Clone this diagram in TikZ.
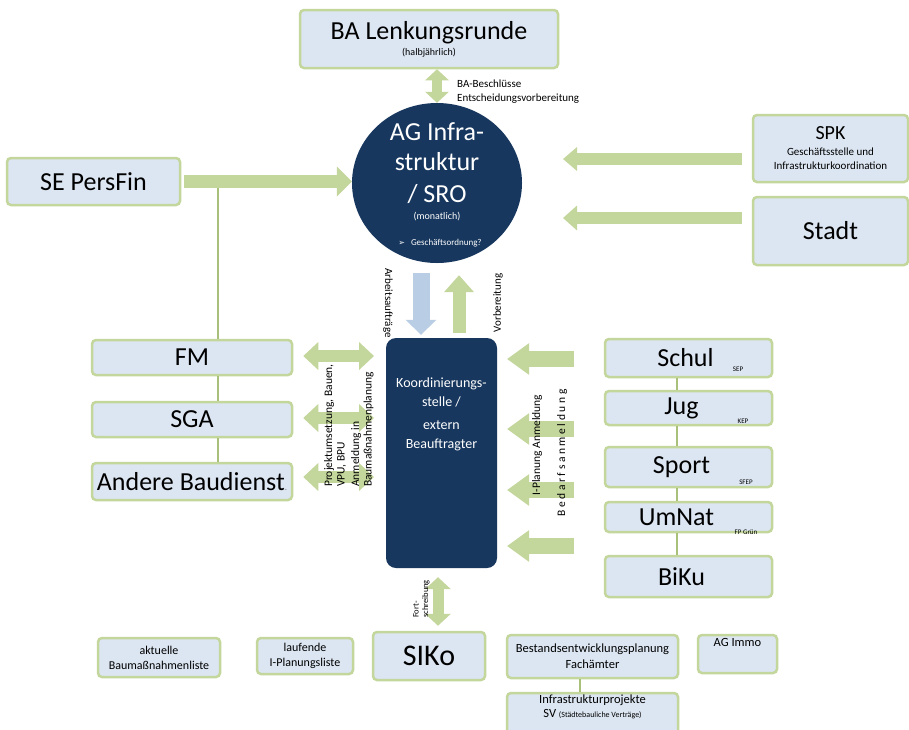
\documentclass[tikz,border=0pt]{standalone}
\usepackage{fontspec}
\setmainfont{Carlito}
\newfontfamily\symfont{DejaVu Sans}
\usetikzlibrary{arrows.meta,shapes.geometric,calc}
\definecolor{boxfill}{HTML}{DCE6F2}
\definecolor{boxline}{HTML}{C3D69B}
\definecolor{arrowgreen}{HTML}{C3D69B}
\definecolor{linkgreen}{HTML}{A9C07A}
\definecolor{navy}{HTML}{17375E}
\definecolor{paleblue}{HTML}{B9CDE5}
\newcommand\fsz[2]{\fontsize{#1}{#2}\selectfont}

\tikzset{
  panel/.style={draw=boxline, line width=2.5pt, fill=boxfill, rounded corners=4pt,
    inner sep=0pt, align=center, text=black},
  wtext/.style={text=white, inner sep=0pt, align=center},
  plain/.style={inner sep=0pt, text=black},
  link/.style={draw=linkgreen, line width=1.2pt},
  onehead/.style n args={4}{draw=#1, line width=#2,
    -{Triangle[width=#3,length=#4]}},
  twohead/.style n args={3}{draw=arrowgreen, line width=#1,
    {Triangle[width=#2,length=#3]}-{Triangle[width=#2,length=#3]}}
}

\begin{document}
\begin{tikzpicture}[x=1pt,y=-1pt,font=\fsz{12}{14}]
\useasboundingbox[fill=white] (0,0) rectangle (909,729);

% --- central circle: AG Infrastruktur / SRO
\node[ellipse, fill=navy, minimum width=170pt, minimum height=160pt, inner sep=0pt] (ago) at (437,183) {};
\node[wtext, font=\fsz{26}{28}] (ago1) at (437,132) {AG Infra-};
\node[wtext, font=\fsz{26}{28}] (ago2) at (437,162) {struktur};
\node[wtext, font=\fsz{26}{28}] (ago3) at (437,194) {/ SRO};
\node[wtext, font=\fsz{10}{12}] (ago4) at (437,217) {(monatlich)};
\node[wtext, font=\fsz{9}{11}] (ago5) at (440,243) {{\symfont\fsz{8}{10}➢}\hspace{6pt}Geschäftsordnung?};

% --- coordination office
\node[fill=navy, rounded corners=10pt, minimum width=111pt, minimum height=230pt, inner sep=0pt] (koord) at (441.5,453) {};
\node[wtext, font=\fsz{14}{19}] (koordtxt) at (441.5,414) {Koordinierungs-\\stelle /\\[4pt]extern\\Beauftragter};

% --- top and side boxes
\node[panel, minimum width=258pt, minimum height=58pt] (ba) at (429,39)
  {\fsz{26}{28}BA Lenkungsrunde\\[2pt]\fsz{10}{12}(halbjährlich)};
\node[panel, minimum width=155pt, minimum height=67pt] (spk) at (830.5,148.5)
  {\fsz{20}{22}SPK\\[2pt]\fsz{11}{14}Geschäftsstelle und\\\fsz{11}{14}Infrastrukturkoordination};
\node[panel, minimum width=155pt, minimum height=68pt, font=\fsz{26}{28}] (stadt) at (830.5,231) {Stadt};
\node[panel, minimum width=173pt, minimum height=47pt, font=\fsz{26}{28}] (sepf) at (93.5,181.5) {SE PersFin};

% --- left column
\node[panel, minimum width=200pt, minimum height=35pt, font=\fsz{26}{28}] (fm) at (192,357.5) {FM};
\node[panel, minimum width=200pt, minimum height=35pt, font=\fsz{26}{28}] (sga) at (192,419.5) {SGA};
\node[panel, minimum width=200pt, minimum height=37pt, font=\fsz{26}{28}] (andere) at (192,481.5)
  {Andere Baudienst{\fsz{9}{9}\color{black!50}.}};

% --- right column
\node[panel, minimum width=167pt, minimum height=38pt, font=\fsz{26}{28}] (schul) at (688.5,358) {\hspace{-6pt}Schul};
\node[panel, minimum width=167pt, minimum height=34pt, font=\fsz{26}{28}] (jug) at (688.5,408) {\hspace{-14pt}Jug};
\node[panel, minimum width=167pt, minimum height=40pt, font=\fsz{26}{28}] (sport) at (688.5,467) {\hspace{-14pt}Sport};
\node[panel, minimum width=167pt, minimum height=30pt, font=\fsz{26}{28}] (umnat) at (688.5,517) {\hspace{-24pt}UmNat};
\node[panel, minimum width=167pt, minimum height=41pt, font=\fsz{26}{28}] (biku) at (688.5,576.5) {\hspace{-14pt}BiKu};
\node[plain, font=\fsz{7}{8}] (sep) at (738,369) {SEP};
\node[plain, font=\fsz{7}{8}] (kep) at (743,421) {KEP};
\node[plain, font=\fsz{7}{8}] (sfep) at (746,482) {SFEP};
\node[plain, font=\fsz{7}{8}] (fpg) at (746,532) {FP Grün};

% --- bottom row
\node[panel, minimum width=112pt, minimum height=48pt, font=\fsz{30}{32}] (siko) at (429,656) {SIKo};
\node[panel, minimum width=122pt, minimum height=39pt, font=\fsz{12}{15}] (akt) at (159,657.5) {aktuelle\\Baumaßnahmenliste};
\node[panel, minimum width=96pt, minimum height=36pt, font=\fsz{12}{15}] (lauf) at (305,656) {laufende\\I-Planungsliste};
\node[panel, minimum width=171pt, minimum height=43pt, font=\fsz{12.5}{16}] (best) at (592.5,656.5) {Bestandsentwicklungsplanung\\Fachämter};
\node[panel, minimum width=79pt, minimum height=38pt, font=\fsz{12.5}{16}] (agimmo) at (737.5,654) {AG Immo\\[8pt]};
\node[panel, minimum width=171pt, minimum height=47pt, font=\fsz{12.5}{15}] (infra) at (592.5,716.5)
  {Infrastrukturprojekte\\[-1pt]SV {\fsz{8}{10}(Städtebauliche Verträge)}\\[6pt]};

% --- helper columns and arrow end points
\coordinate (lcol) at (218,0);
\coordinate (rcol) at (677,0);
\coordinate (bcol) at (580,0);
\coordinate (bax) at (437,0);
\coordinate (bluex) at (421,0);
\coordinate (greenx) at (459,0);
\coordinate (sikox) at (438,0);
\coordinate (spkin) at (563,159);
\coordinate (stadtin) at (563,218);
\coordinate (kl1) at (374,356);
\coordinate (kl2) at (374,418);
\coordinate (kl3) at (374,477);
\coordinate (kr1) at (507,359);
\coordinate (kr2) at (507,429);
\coordinate (kr3) at (507,490);
\coordinate (kr4) at (507,546);

% --- thin links between stacked boxes
\draw[link] (sepf.east -| lcol) -- (fm.north -| lcol);
\draw[link] (fm.south -| lcol) -- (sga.north -| lcol);
\draw[link] (sga.south -| lcol) -- (andere.north -| lcol);
\draw[link] (schul.south -| rcol) -- (jug.north -| rcol);
\draw[link] (jug.south -| rcol) -- (sport.north -| rcol);
\draw[link] (sport.south -| rcol) -- (umnat.north -| rcol);
\draw[link] (umnat.south -| rcol) -- (biku.north -| rcol);
\draw[link] (best.south -| bcol) -- (infra.north -| bcol);

% --- block arrows
\draw[twohead={10pt}{23pt}{11pt}] (ba.south -| bax) -- (ago.north);
\draw[onehead={arrowgreen}{13pt}{29pt}{15pt}] (sepf.east) ++(3,0) -- (ago.west |- sepf.east);
\draw[onehead={arrowgreen}{12pt}{23pt}{14pt}] (spkin -| spk.west) ++(-10,0) -- (spkin);
\draw[onehead={arrowgreen}{12pt}{24pt}{14pt}] (stadtin -| stadt.west) ++(-10,0) -- (stadtin);
\draw[onehead={paleblue}{17pt}{30pt}{15pt}, shorten >=3pt] (ago.south -| bluex) ++(0,10) -- (koord.north -| bluex);
\draw[onehead={arrowgreen}{13pt}{29pt}{17pt}, shorten >=12pt] (koord.north -| greenx) ++(0,-5) -- (ago.south -| greenx);
\draw[twohead={12pt}{27pt}{15pt}] (kl1 -| fm.east) ++(10,0) -- (kl1);
\draw[twohead={12pt}{27pt}{15pt}] (kl2 -| sga.east) ++(10,0) -- (kl2);
\draw[twohead={12pt}{27pt}{15pt}] (kl3 -| andere.east) ++(10,0) -- (kl3);
\draw[onehead={arrowgreen}{16pt}{30pt}{22pt}] (kr1 -| schul.west) ++(-30,0) -- (kr1);
\draw[onehead={arrowgreen}{16pt}{30pt}{22pt}] (kr2 -| schul.west) ++(-30,0) -- (kr2);
\draw[onehead={arrowgreen}{16pt}{30pt}{22pt}] (kr3 -| schul.west) ++(-30,0) -- (kr3);
\draw[onehead={arrowgreen}{16pt}{30pt}{22pt}] (kr4 -| schul.west) ++(-30,0) -- (kr4);
\draw[twohead={11pt}{25pt}{12pt}, shorten <=9pt, shorten >=5pt] (koord.south -| sikox) -- (siko.north -| sikox);

% --- connector labels
\node[plain, align=left, font=\fsz{11}{14}, anchor=west] (balbl) at (457,92) {BA-Beschlüsse\\Entscheidungsvorbereitung};
\node[plain, font=\fsz{11}{13}, rotate=-90] (arbl) at (388,303) {Arbeitsaufträge};
\node[plain, font=\fsz{11}{13}, rotate=90] (vorbl) at (498,303) {Vorbereitung};
\node[plain, align=left, font=\fsz{11.5}{12.5}, rotate=90, anchor=north west] (projlbl) at (324,487)
  {Projektumsetzung, Bauen,\\VPU, BPU};
\node[plain, align=left, font=\fsz{11.5}{12.5}, rotate=90, anchor=north west] (anmlbl) at (351,487)
  {Anmeldung in\\Baumaßnahmenplanung};
\node[plain, font=\fsz{11.5}{13}, rotate=90] (iplbl) at (537,445) {I-Planung Anmeldung};
\node[plain, font=\fsz{11.5}{13}, rotate=90] (bedlbl) at (562,453) {B e d a r f s a n m e l d u n g};
\node[plain, align=left, font=\fsz{8.5}{9.5}, rotate=90, anchor=north west] (fortlbl) at (413,618)
  {Fort-\\schreibung};
\end{tikzpicture}
\end{document}
